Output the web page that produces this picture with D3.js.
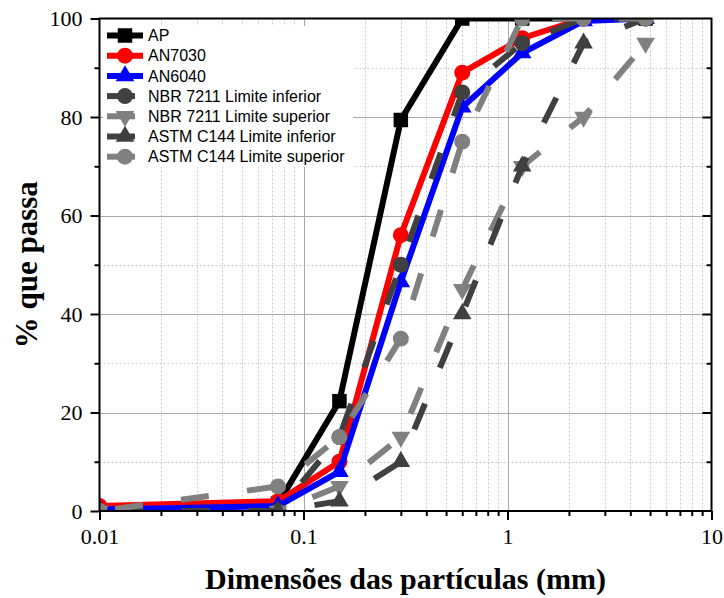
<!DOCTYPE html>
<html>
<head>
<meta charset="utf-8">
<script src="https://cdn.jsdelivr.net/npm/d3@7"></script>
<style>
  html, body { margin: 0; padding: 0; background: #fff; }
  svg { display: block; }
</style>
</head>
<body>
<svg id="chart" width="724" height="598"></svg>
<script>
// Sieve openings (mm) and cumulative % passing for each curve
const sieves = [0.01, 0.075, 0.15, 0.3, 0.6, 1.18, 2.36, 4.75];
const apValues      = [null, 1.5, 22.3, 79.4, 100, 100, 100, 100];
const an7030Values  = [1, 2, 10, 56, 89, 96, 100, 100];
const an6040Values  = [0.3, 1, 8, 46.5, 82, 93, 99.5, 100];
const nbrInfValues  = [0, 0, 15, 50, 85, 95, 100, 100];
const nbrSupValues  = [0, 0, 5, 15, 45, 70, 80, 95];
const astmInfValues = [0, 0, 2, 10, 40, 70, 95, 100];
const astmSupValues = [0, 5, 15, 35, 75, 100, 100, 100];

const seriesNames = ["AP", "AN7030", "AN6040", "NBR 7211 Limite inferior",
  "NBR 7211 Limite superior", "ASTM C144 Limite inferior", "ASTM C144 Limite superior"];

const xTickValues = [0.01, 0.1, 1, 10];
const xTickLabels = ["0.01", "0.1", "1", "10"];
const yTickValues = [0, 20, 40, 60, 80, 100];
const yTickLabels = ["0", "20", "40", "60", "80", "100"];

const xTitle = "Dimensões das partículas (mm)";
const yTitle = "% que passa";

// Styling per series
const styles = [
  { color: "#000000", symbol: "square",   dashed: false },
  { color: "#ff0000", symbol: "circle",   dashed: false },
  { color: "#0000ff", symbol: "triangle", dashed: false },
  { color: "#404040", symbol: "circle",   dashed: true },
  { color: "#808080", symbol: "triDown",  dashed: true },
  { color: "#404040", symbol: "triangle", dashed: true },
  { color: "#808080", symbol: "circle",   dashed: true }
];
const seriesValues = [apValues, an7030Values, an6040Values, nbrInfValues,
  nbrSupValues, astmInfValues, astmSupValues];

const svg = d3.select("#chart");
const pLeft = 99.5, pRight = 711.5, pTop = 18.5, pBottom = 511;

const x = d3.scaleLog().domain([0.01, 10]).range([pLeft, pRight]);
const y = d3.scaleLinear().domain([0, 100]).range([pBottom, pTop]);

svg.append("defs").append("clipPath").attr("id", "plotClip")
  .append("rect").attr("x", pLeft).attr("y", pTop)
  .attr("width", pRight - pLeft).attr("height", pBottom - pTop);

// Grid: minor dotted, major solid
const minorX = [];
[0.01, 0.1, 1].forEach(d => { for (let k = 2; k <= 9; k++) minorX.push(d * k); });
const minorY = d3.range(10, 100, 20);
const majorX = [0.1, 1];
const majorY = [20, 40, 60, 80];

const grid = svg.append("g");
grid.selectAll(".mx").data(minorX).join("line")
  .attr("x1", d => Math.round(x(d)) + 0.5).attr("x2", d => Math.round(x(d)) + 0.5)
  .attr("y1", pTop).attr("y2", pBottom)
  .attr("stroke", "#c8c8c8").attr("stroke-width", 1).attr("stroke-dasharray", "2,2");
grid.selectAll(".my").data(minorY).join("line")
  .attr("x1", pLeft).attr("x2", pRight)
  .attr("y1", d => Math.round(y(d)) + 0.5).attr("y2", d => Math.round(y(d)) + 0.5)
  .attr("stroke", "#c8c8c8").attr("stroke-width", 1).attr("stroke-dasharray", "2,2");
grid.selectAll(".Mx").data(majorX).join("line")
  .attr("x1", d => Math.round(x(d)) + 0.5).attr("x2", d => Math.round(x(d)) + 0.5)
  .attr("y1", pTop).attr("y2", pBottom)
  .attr("stroke", "#a8a8a8").attr("stroke-width", 1);
grid.selectAll(".My").data(majorY).join("line")
  .attr("x1", pLeft).attr("x2", pRight)
  .attr("y1", d => Math.round(y(d)) + 0.5).attr("y2", d => Math.round(y(d)) + 0.5)
  .attr("stroke", "#a8a8a8").attr("stroke-width", 1);

// Symbol generator
function symbolPath(kind) {
  if (kind === "square") return d3.symbol(d3.symbolSquare, 210)();
  if (kind === "circle") return d3.symbol(d3.symbolCircle, 200)();
  return d3.symbol(d3.symbolTriangle, 150)();
}

const dashPattern = "28,38.6";
const dashOffset = 50.9;

const plot = svg.append("g").attr("clip-path", "url(#plotClip)");
const line = d3.line()
  .defined(d => d.v !== null)
  .x(d => x(d.s)).y(d => y(d.v));

seriesValues.forEach((vals, i) => {
  const st = styles[i];
  const pts = sieves.map((s, j) => ({ s, v: vals[j] }));
  const g = plot.append("g");
  g.append("path").datum(pts)
    .attr("d", line)
    .attr("fill", "none")
    .attr("stroke", st.color)
    .attr("stroke-width", 6)
    .attr("stroke-linejoin", "miter")
    .attr("stroke-dasharray", st.dashed ? dashPattern : null)
    .attr("stroke-dashoffset", st.dashed ? dashOffset : null);
  g.selectAll("path.m").data(pts.filter(d => d.v !== null)).join("path")
    .attr("class", "m")
    .attr("d", symbolPath(st.symbol))
    .attr("transform", d => `translate(${x(d.s)},${y(d.v)})` + (st.symbol === "triDown" ? " rotate(180)" : ""))
    .attr("fill", st.color);
});

// Frame
svg.append("rect").attr("x", pLeft).attr("y", pTop)
  .attr("width", pRight - pLeft).attr("height", pBottom - pTop)
  .attr("fill", "none").attr("stroke", "#000").attr("stroke-width", 2);

// Axes
const xAxis = d3.axisBottom(x)
  .tickValues(xTickValues)
  .tickFormat((d, i) => xTickLabels[i])
  .tickSize(9).tickPadding(8);
const gx = svg.append("g").attr("transform", `translate(0,${pBottom})`).call(xAxis);
gx.select(".domain").remove();
gx.selectAll(".tick line").attr("stroke-width", 2);
gx.selectAll("text").attr("font-family", "'Liberation Serif', 'Times New Roman', serif")
  .attr("font-size", 22).attr("fill", "#000");

const gxMinor = svg.append("g").attr("transform", `translate(0,${pBottom})`)
  .call(d3.axisBottom(x).tickValues(minorX).tickFormat("").tickSize(5));
gxMinor.select(".domain").remove();
gxMinor.selectAll(".tick line").attr("stroke-width", 2);

const yAxis = d3.axisLeft(y)
  .tickValues(yTickValues)
  .tickFormat((d, i) => yTickLabels[i])
  .tickSize(9).tickPadding(8);
const gy = svg.append("g").attr("transform", `translate(${pLeft},0)`).call(yAxis);
gy.select(".domain").remove();
gy.selectAll(".tick line").attr("stroke-width", 2);
gy.selectAll("text").attr("font-family", "'Liberation Serif', 'Times New Roman', serif")
  .attr("font-size", 22).attr("fill", "#000");

const gyMinor = svg.append("g").attr("transform", `translate(${pLeft},0)`)
  .call(d3.axisLeft(y).tickValues(minorY).tickFormat("").tickSize(5));
gyMinor.select(".domain").remove();
gyMinor.selectAll(".tick line").attr("stroke-width", 2);

// Inward ticks on the right side
const gr = svg.append("g").attr("transform", `translate(${pRight},0)`)
  .call(d3.axisLeft(y).tickValues(majorY).tickFormat("").tickSize(9));
gr.select(".domain").remove();
gr.selectAll(".tick line").attr("stroke-width", 2);
const grm = svg.append("g").attr("transform", `translate(${pRight},0)`)
  .call(d3.axisLeft(y).tickValues(minorY).tickFormat("").tickSize(5));
grm.select(".domain").remove();
grm.selectAll(".tick line").attr("stroke-width", 2);

// Axis titles
svg.append("text")
  .attr("x", (pLeft + pRight) / 2).attr("y", 589)
  .attr("text-anchor", "middle")
  .attr("font-family", "'Liberation Serif', 'Times New Roman', serif")
  .attr("font-weight", "bold").attr("font-size", 30)
  .text(xTitle);
svg.append("text")
  .attr("transform", `translate(37,${(pTop + pBottom) / 2}) rotate(-90)`)
  .attr("text-anchor", "middle")
  .attr("font-family", "'Liberation Serif', 'Times New Roman', serif")
  .attr("font-weight", "bold").attr("font-size", 31)
  .text(yTitle);

// Legend
const legend = svg.append("g");
legend.append("rect").attr("x", 103).attr("y", 26).attr("width", 250).attr("height", 141)
  .attr("fill", "#fff");
seriesNames.forEach((name, i) => {
  const st = styles[i];
  const cy = 35.5 + i * 20.2;
  const row = legend.append("g");
  row.append("line").attr("x1", 107).attr("x2", 143).attr("y1", cy).attr("y2", cy)
    .attr("stroke", st.color).attr("stroke-width", 6)
    .attr("stroke-dasharray", st.dashed ? dashPattern : null);
  row.append("path").attr("d", symbolPath(st.symbol))
    .attr("transform", `translate(125,${cy})` + (st.symbol === "triDown" ? " rotate(180)" : ""))
    .attr("fill", st.color);
  row.append("text").attr("x", 148).attr("y", cy).attr("dy", "0.35em")
    .attr("font-family", "'Liberation Sans', Arial, sans-serif")
    .attr("font-size", 16).attr("fill", "#000")
    .text(name);
});
</script>
</body>
</html>
